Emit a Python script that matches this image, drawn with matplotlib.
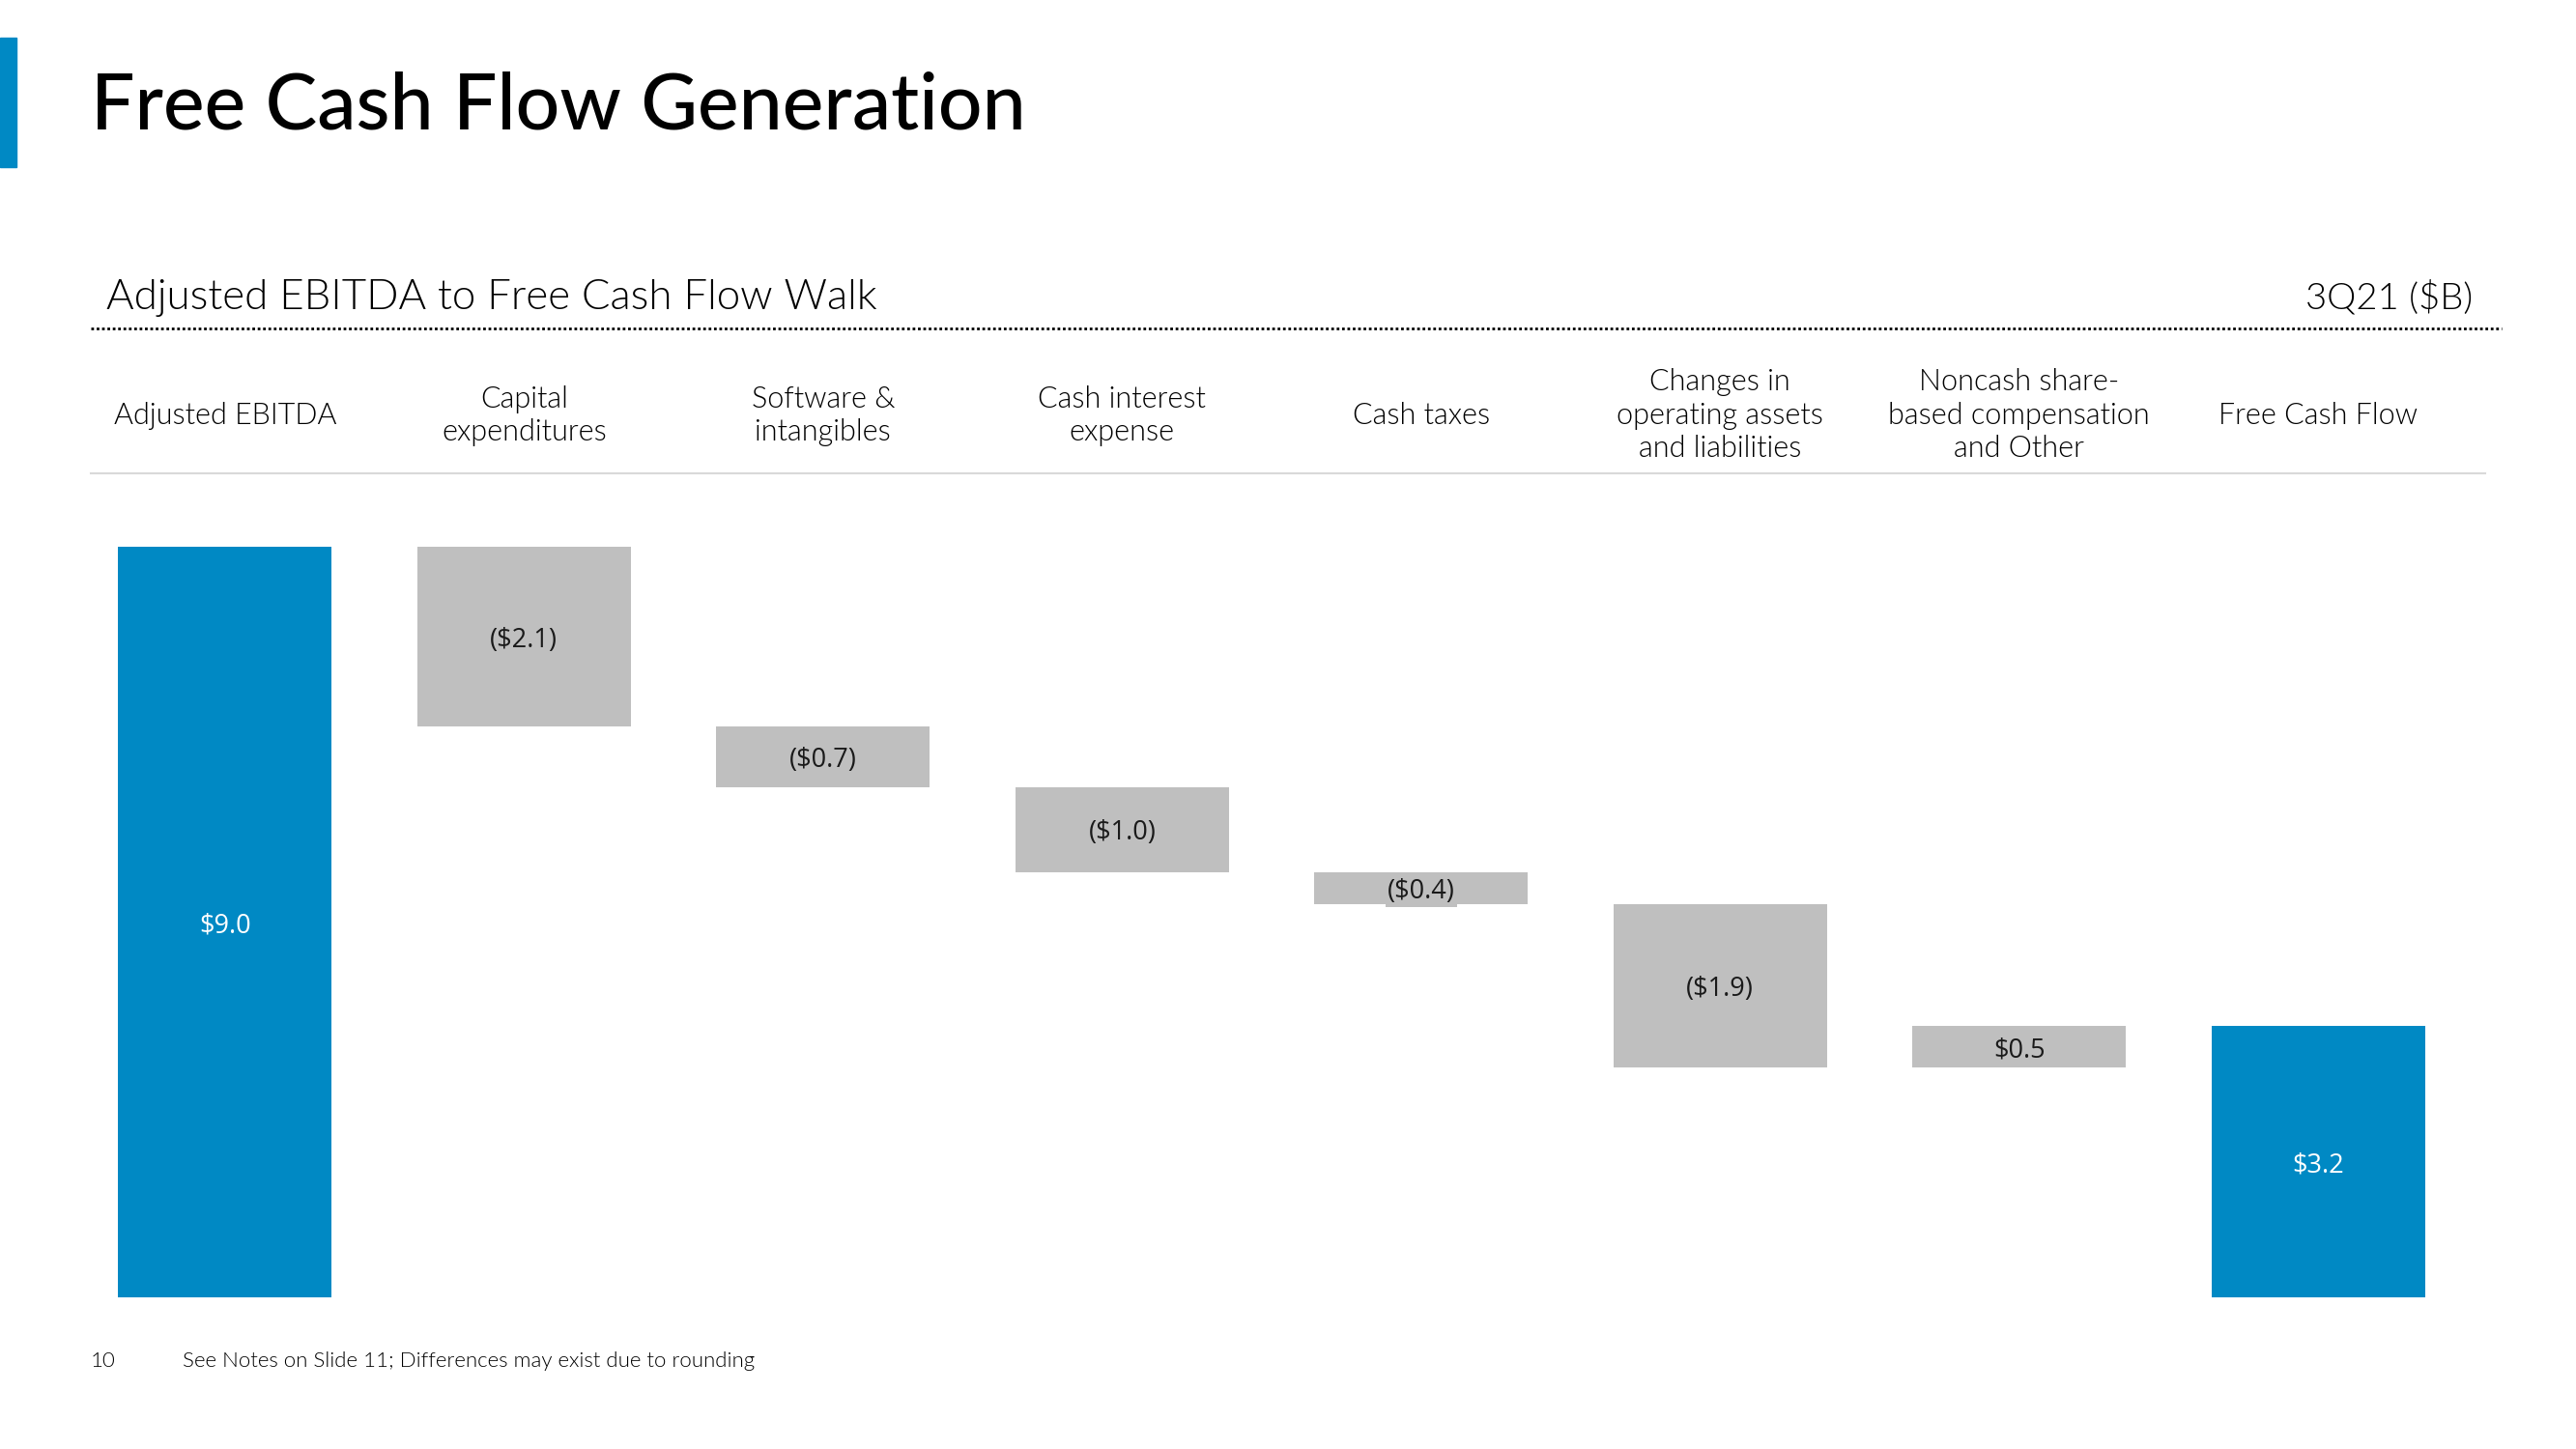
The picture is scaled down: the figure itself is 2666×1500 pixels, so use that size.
import matplotlib
matplotlib.use("Agg")
import matplotlib.pyplot as plt
import matplotlib.transforms as mtransforms
import numpy as np

# data, $B
categories = ["Adjusted EBITDA", "Capital\nexpenditures", "Software &\nintangibles",
              "Cash interest\nexpense", "Cash taxes", "Changes in\noperating assets\nand liabilities",
              "Noncash share-\nbased compensation\nand Other", "Free Cash Flow"]
adj_ebitda = 9.0
steps = [-2.15, -0.73, -1.02, -0.38, -1.96, 0.49]
value_labels = ["$9.0", "($2.1)", "($0.7)", "($1.0)", "($0.4)", "($1.9)", "$0.5", "$3.2"]

blue = "#0089C4"
grey = "#BFBFBF"
font = "Lato"
lw = 300  # light weight

fig = plt.figure(figsize=(26.66, 15), dpi=100)
ax = fig.add_axes([0.0293, 0.1047, 0.9287, 0.5753])

# waterfall geometry
levels = np.concatenate([[adj_ebitda], adj_ebitda + np.cumsum(steps)])
fcf = levels[-1]
bottoms = [0]
heights = [adj_ebitda]
for i, s in enumerate(steps):
    bottoms.append(min(levels[i], levels[i + 1]))
    heights.append(abs(s))
bottoms.append(0)
heights.append(fcf)
colors = [blue] + [grey] * len(steps) + [blue]

x = np.arange(len(categories))
ax.bar(x, heights, bottom=bottoms, width=0.714, color=colors, linewidth=0)
ax.set_xlim(-0.5, len(categories) - 0.5)
ax.set_ylim(0, 10)
ax.axis("off")

for i in range(len(categories)):
    yc = bottoms[i] + heights[i] / 2
    col = "white" if colors[i] == blue else "#1a1a1a"
    kw = {}
    if heights[i] < 0.45:
        kw["bbox"] = dict(facecolor=grey, edgecolor="none", pad=1.5)
    ax.text(x[i], yc, value_labels[i], ha="center", va="center_baseline", fontsize=19.5,
            color=col, family="Open Sans", **kw)

# category header row
trans = mtransforms.blended_transform_factory(ax.transData, fig.transFigure)
for i, c in enumerate(categories):
    ax.text(x[i], 0.7133, c, transform=trans, ha="center", va="center",
            fontsize=22, family=font, fontweight=lw, linespacing=1.22, color="black")

# slide furniture
fig.patches.append(plt.Rectangle((0, 1 - 173 / 1500), 17 / 2666, 134 / 1500,
                                 transform=fig.transFigure, color=blue))
fig.text(0.0353, 0.911, "Free Cash Flow Generation", fontsize=58, family=font,
         fontweight="medium", va="baseline", color="black")
fig.text(0.0413, 0.787, "Adjusted EBITDA to Free Cash Flow Walk", fontsize=31.5,
         family=font, fontweight=lw, va="baseline", color="black")
fig.text(0.960, 0.787, "3Q21 ($B)", fontsize=27.5, family=font, fontweight=lw,
         va="baseline", ha="right", color="black")
fig.add_artist(plt.Line2D([0.0353, 0.971], [0.7733, 0.7733], transform=fig.transFigure,
                          color="black", linewidth=2, linestyle=(0, (1, 1))))
fig.add_artist(plt.Line2D([0.0353, 0.9647], [0.673, 0.673], transform=fig.transFigure,
                          color="#d9d9d9", linewidth=1.5))
fig.text(0.0353, 0.0607, "10", fontsize=16, family=font, fontweight=lw, va="center")
fig.text(0.0709, 0.0607, "See Notes on Slide 11; Differences may exist due to rounding",
         fontsize=16, family=font, fontweight=lw, va="center")

fig.savefig("out.png", dpi=100, facecolor="white")
